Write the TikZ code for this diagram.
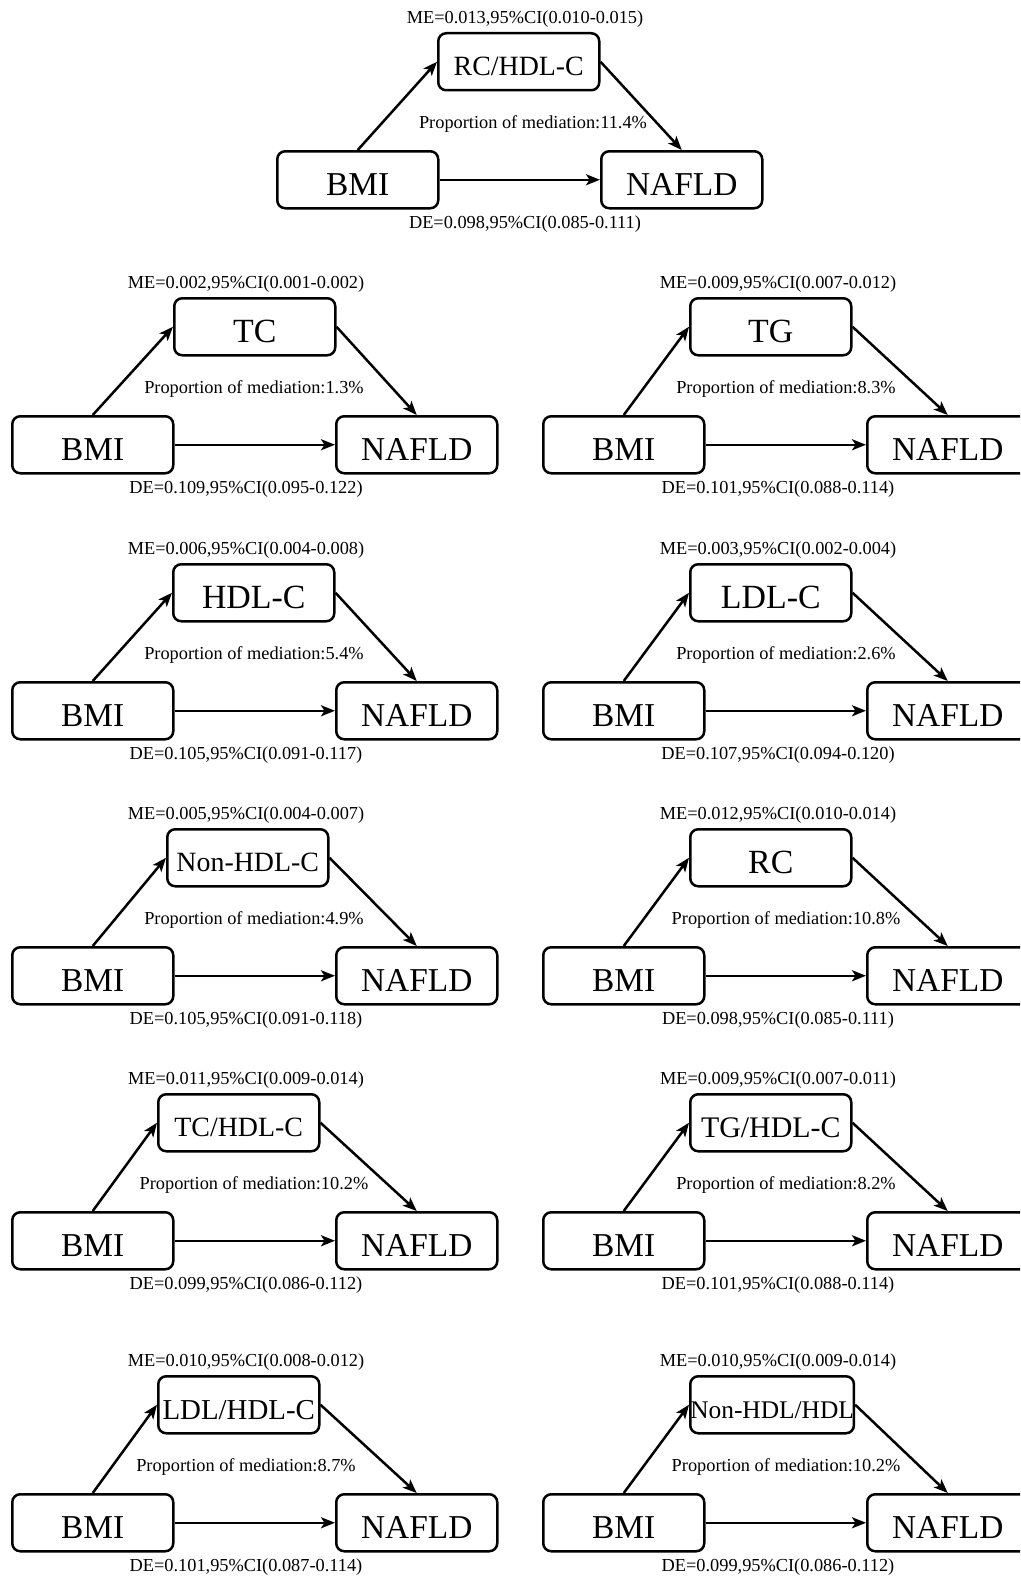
\documentclass[tikz,border=0pt]{standalone}
\usepackage{fontspec}
\setmainfont{Liberation Serif}
\usetikzlibrary{arrows.meta}
\tikzset{
 bx/.style={draw, line width=2.5bp, rounded corners=8bp, minimum width=161bp, minimum height=57bp, inner sep=0pt, anchor=north west, font=\fontsize{33.5}{33.5}\selectfont},
 sm/.style={inner sep=0pt, font=\fontsize{18.4}{18.4}\selectfont},
 arr/.style={line width=2.5bp, -{Stealth[length=14bp,width=11bp,inset=3.5bp]}},
}
\newcommand\lbl[1]{\raisebox{\dimexpr-0.331em-5bp\relax}[0pt][0pt]{#1}}
\newcommand\mlab[2]{\fontsize{#1}{#1}\selectfont\lbl{#2}}
\newcommand\pshift{8}
\newcommand\panel[9]{%
 \node[bx] (#1b) at (#2,#3+118) {\lbl{BMI}};
 \node[bx] (#1n) at (#2+324,#3+118) {\lbl{NAFLD}};
 \node[bx] (#1m) at (#4,#3) {\mlab#5};
 \node[sm] (#1me) at (#9,#3-13) {#6};
 \node[sm] (#1p) at (#9+\pshift,#3+92) {#7};
 \node[sm] (#1de) at (#9,#3+192) {#8};
 \draw[arr] (#1b.north) -- (#1m.west);
 \draw[arr] (#1m.east) -- (#1n.north);
 \draw[arr] (#1b.east) -- (#1n.west);
}
\begin{document}
\begin{tikzpicture}[x=1bp,y=-1bp]
\useasboundingbox (0,0) rectangle (1020,1579);
\fill[white] (0,0) rectangle (1020,1579);
\clip (0,0) rectangle (1020,1579);
\panel{a}{276}{32}{437}{{28}{RC/HDL-C}}{ME=0.013,95\%CI(0.010-0.015)}{Proportion of mediation:11.4\%}{DE=0.098,95\%CI(0.085-0.111)}{525}
\panel{b}{11}{297}{173}{{34}{TC}}{ME=0.002,95\%CI(0.001-0.002)}{Proportion of mediation:1.3\%}{DE=0.109,95\%CI(0.095-0.122)}{246}
\panel{c}{542}{297}{689}{{34}{TG}}{ME=0.009,95\%CI(0.007-0.012)}{Proportion of mediation:8.3\%}{DE=0.101,95\%CI(0.088-0.114)}{778}
\panel{d}{11}{563}{172}{{34}{HDL-C}}{ME=0.006,95\%CI(0.004-0.008)}{Proportion of mediation:5.4\%}{DE=0.105,95\%CI(0.091-0.117)}{246}
\panel{e}{542}{563}{689}{{34}{LDL-C}}{ME=0.003,95\%CI(0.002-0.004)}{Proportion of mediation:2.6\%}{DE=0.107,95\%CI(0.094-0.120)}{778}
\panel{f}{11}{828}{166}{{28}{Non-HDL-C}}{ME=0.005,95\%CI(0.004-0.007)}{Proportion of mediation:4.9\%}{DE=0.105,95\%CI(0.091-0.118)}{246}
\panel{g}{542}{828}{689}{{34}{RC}}{ME=0.012,95\%CI(0.010-0.014)}{Proportion of mediation:10.8\%}{DE=0.098,95\%CI(0.085-0.111)}{778}
\panel{h}{11}{1093}{157}{{28}{TC/HDL-C}}{ME=0.011,95\%CI(0.009-0.014)}{Proportion of mediation:10.2\%}{DE=0.099,95\%CI(0.086-0.112)}{246}
\panel{i}{542}{1093}{689}{{30}{TG/HDL-C}}{ME=0.009,95\%CI(0.007-0.011)}{Proportion of mediation:8.2\%}{DE=0.101,95\%CI(0.088-0.114)}{778}
\renewcommand\pshift{0}
\panel{j}{11}{1375}{157}{{29}{LDL/HDL-C}}{ME=0.010,95\%CI(0.008-0.012)}{Proportion of mediation:8.7\%}{DE=0.101,95\%CI(0.087-0.114)}{246}
\renewcommand\pshift{8}
\panel{k}{542}{1375}{689}{{25.5}{Non-HDL/HDL}}{ME=0.010,95\%CI(0.009-0.014)}{Proportion of mediation:10.2\%}{DE=0.099,95\%CI(0.086-0.112)}{778}
\end{tikzpicture}
\end{document}
